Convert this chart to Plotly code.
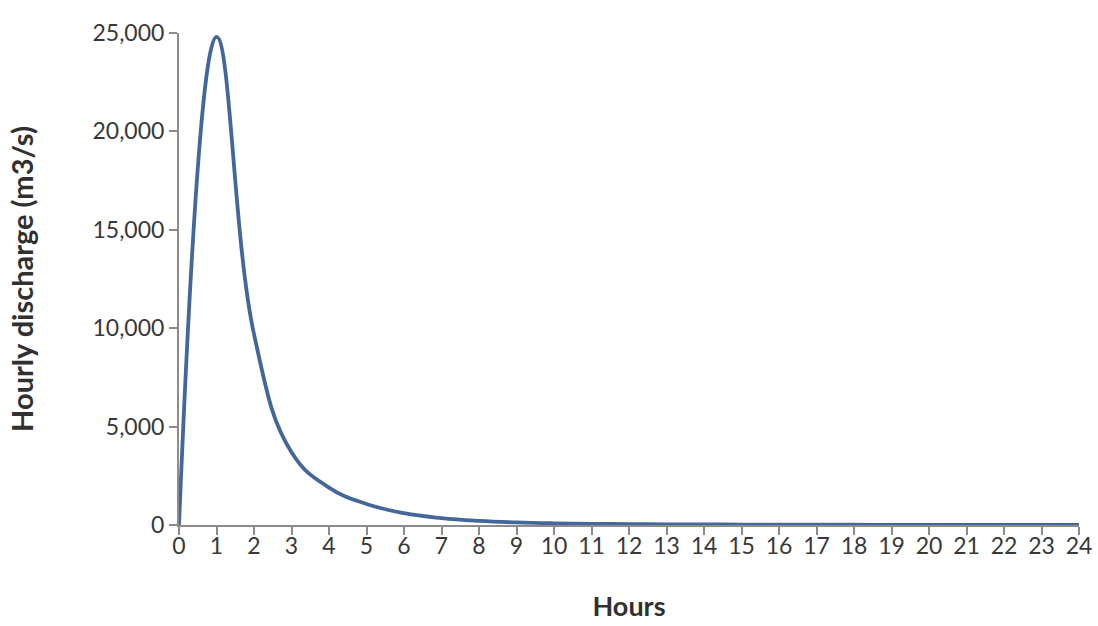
import plotly.graph_objects as go

# Hourly discharge hydrograph
hours = list(range(0, 25))
discharge = [0, 24800, 9700, 3700, 1900, 1070, 600, 350, 210, 130, 85, 60,
             45, 35, 28, 22, 18, 15, 12, 10, 8, 7, 6, 5, 4]

y_ticks = [0, 5000, 10000, 15000, 20000, 25000]
y_tick_text = ["0", "5,000", "10,000", "15,000", "20,000", "25,000"]

axis_color = "#8c8c8c"
text_color = "#383838"
font_family = "Lato, 'Open Sans', sans-serif"

fig = go.Figure()
fig.add_trace(go.Scatter(
    x=hours, y=discharge, mode="lines",
    line=dict(color="#44679b", width=3.8, shape="spline", smoothing=1.2),
    cliponaxis=False, showlegend=False,
))

fig.update_layout(
    width=1098, height=626,
    margin=dict(l=179, r=19, t=33, b=101, autoexpand=False),
    paper_bgcolor="white", plot_bgcolor="white",
    font=dict(family=font_family, color=text_color),
)
fig.update_xaxes(
    range=[0, 24], tickmode="array", tickvals=hours,
    ticktext=[str(h) for h in hours],
    showgrid=False, zeroline=False, automargin=False,
    showline=True, linecolor=axis_color, linewidth=2,
    ticks="outside", ticklen=8, tickcolor=axis_color, tickwidth=1.5,
    ticklabelstandoff=-9,
    tickfont=dict(size=23, color=text_color),
    title=dict(text="<b>Hours</b>", font=dict(size=27, color="#303030"), standoff=40),
)
fig.update_yaxes(
    range=[0, 25000], tickmode="array", tickvals=y_ticks, ticktext=y_tick_text,
    showgrid=False, zeroline=False, automargin=False,
    showline=True, linecolor=axis_color, linewidth=2,
    ticks="outside", ticklen=8, tickcolor=axis_color, tickwidth=1.5,
    tickfont=dict(size=23, color=text_color),
    title=dict(text="<b>Hourly discharge (m3/s)</b>", font=dict(size=29, color="#303030"), standoff=50),
)

fig.write_html("out.html")
